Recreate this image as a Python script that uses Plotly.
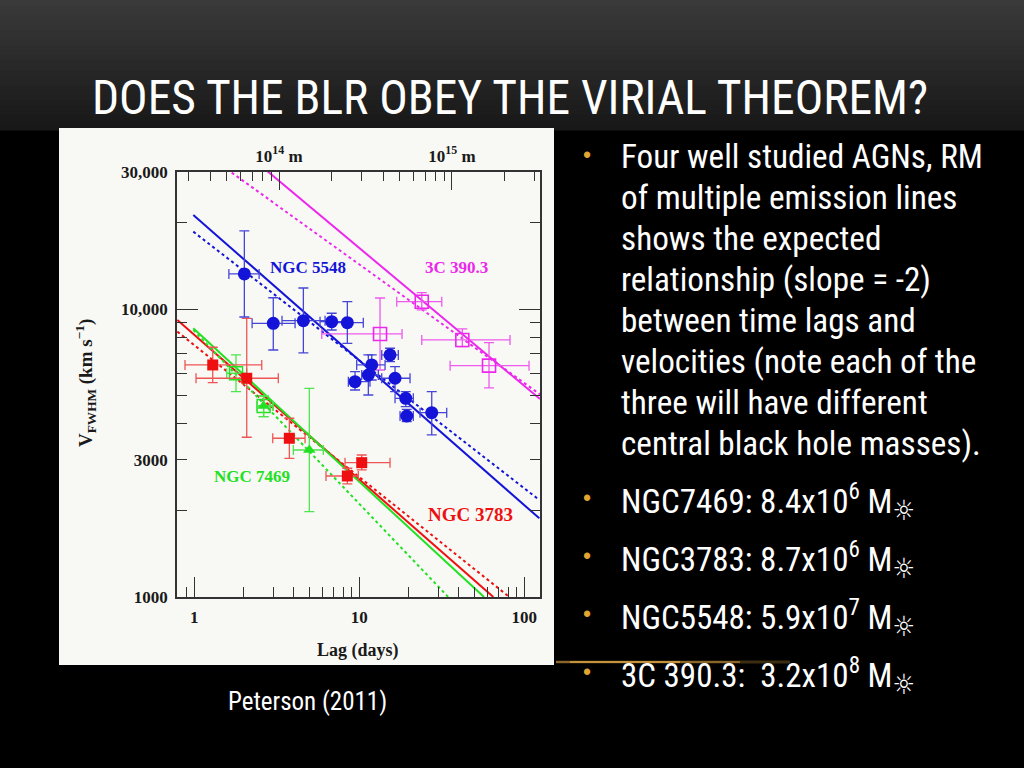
import plotly.graph_objects as go

# ---------------- data ----------------
# NGC 5548 (blue filled circles): lag in days, FWHM in km/s
n5548_lag    = [2.01, 3.01, 4.58, 6.80, 8.46, 9.42, 11.34, 11.89, 15.35, 16.46, 19.11, 19.38, 27.47]
n5548_lag_lo = [1.62, 2.24, 3.40, 5.78, 6.96, 8.58, 10.34, 9.64, 13.67, 13.67, 16.46, 17.65, 23.33]
n5548_lag_hi = [2.47, 4.08, 6.20, 8.19, 10.57, 11.60, 13.04, 14.32, 17.23, 20.29, 21.24, 21.24, 33.86]
n5548_v      = [13270, 8940, 9130, 9055, 8981, 5602, 5910, 6404, 6937, 5757, 4904, 4257, 4371]
n5548_v_lo   = [9400, 7220, 7050, 8472, 7617, 5242, 5036, 5679, 6576, 5171, 4586, 4068, 3657]
n5548_v_hi   = [18720, 10965, 11858, 9685, 10627, 6069, 6937, 6937, 7320, 6317, 5171, 4491, 5171]

# 3C 390.3 (magenta open squares)
c390_lag    = [13.35, 23.9, 42.1, 61.1]
c390_lag_lo = [5.92, 16.86, 23.9, 35.5]
c390_lag_hi = [18.15, 31.6, 81.9, 106.8]
c390_v      = [8208, 10627, 7823, 6368]
c390_v_lo   = [6152, 9945, 7413, 5327]
c390_v_hi   = [10946, 11422, 8543, 7654]

# NGC 3783 (red filled squares)
n3783_lag    = [1.293, 2.078, 3.766, 8.459, 10.34]
n3783_lag_lo = [0.878, 1.024, 2.987, 6.28, 8.19]
n3783_lag_hi = [2.562, 3.229, 4.688, 9.86, 15.35]
n3783_v      = [6404, 5757, 3562, 2634, 2930]
n3783_v_lo   = [5557, 3591, 3034, 2471, 2764]
n3783_v_hi   = [7379, 9305, 4180, 2802, 3116]

# NGC 7469 (green open squares and filled triangles)
n7469s_lag    = [1.789, 2.630]
n7469s_lag_lo = [1.571, 2.399]
n7469s_lag_hi = [2.078, 2.999]
n7469s_v      = [5992, 4612]
n7469s_v_lo   = [5171, 4233]
n7469s_v_hi   = [6937, 4995]

n7469t_lag    = [2.630, 4.977]
n7469t_lag_lo = [2.399, 3.981]
n7469t_lag_hi = [2.999, 6.05]
n7469t_v      = [4612, 3243]
n7469t_v_lo   = [4233, 1979]
n7469t_v_hi   = [4995, 5313]

# fitted lines (end points of straight log-log segments)
fit_5548_solid_lag = [0.986, 123.3];  fit_5548_solid_v = [21270, 1877]
fit_5548_dot_lag   = [0.986, 123.3];  fit_5548_dot_v   = [18610, 2174]
fit_390_solid_lag  = [2.747, 124.5];  fit_390_solid_v  = [30330, 4876]
fit_390_dot_lag    = [1.685, 124.5];  fit_390_dot_v    = [29840, 5060]
fit_3783_solid_lag = [0.789, 64.9];   fit_3783_solid_v = [9180, 1000]
fit_3783_dot_lag   = [0.789, 81.1];   fit_3783_dot_v   = [8361, 1000]
fit_7469_solid_lag = [0.986, 57.0];   fit_7469_solid_v = [8590, 1000]
fit_7469_dot_lag   = [0.986, 34.6];   fit_7469_dot_v   = [8472, 1000]

# axis ticks
x_major = [1, 10, 100]
x_major_text = ["1", "10", "100"]
x_minor = [0.9, 2, 3, 4, 5, 6, 7, 8, 9, 20, 30, 40, 50, 60, 70, 80, 90]
y_major = [1000, 3000, 10000, 30000]
y_major_text = ["1000", "3000", "10,000", "30,000"]
y_minor = [2000, 4000, 5000, 6000, 7000, 8000, 9000, 20000]
top_major = [1e14, 1e15]
top_major_text = ["10<sup>14</sup> m", "10<sup>15</sup> m"]
top_minor = [3e13, 4e13, 5e13, 6e13, 7e13, 8e13, 9e13,
             2e14, 3e14, 4e14, 5e14, 6e14, 7e14, 8e14, 9e14, 2e15, 3e15]

title_text = "DOES THE BLR OBEY THE VIRIAL THEOREM?"
bullet1_lines = ["Four well studied AGNs, RM",
                 "of multiple emission lines",
                 "shows the expected",
                 "relationship (slope = -2)",
                 "between time lags and",
                 "velocities (note each of the",
                 "three will have different",
                 "central black hole masses)."]
SUN = "<sub><span style=\"font-size:28px\">☼</span></sub>"
mass_lines = ["NGC7469: 8.4x10<sup>6</sup> M" + SUN,
              "NGC3783: 8.7x10<sup>6</sup> M" + SUN,
              "NGC5548: 5.9x10<sup>7</sup> M" + SUN,
              "3C 390.3:  3.2x10<sup>8</sup> M" + SUN]
caption = "Peterson (2011)"

# ---------------- layout geometry (pixels) ----------------
W, H = 1024, 768
L, R, T, B = 177, 540, 172, 597


def pxx(x):
    return (x - L) / (R - L)


def pxy(y):
    return (B - y) / (B - T)


SERIF = "Liberation Serif, Times New Roman, serif"
NARROW = "Roboto Condensed, Liberation Sans Narrow, Arial Narrow, DejaVu Sans Condensed, sans-serif"

BLUE, BLUE_E = "#1414d8", "#4646d6"
MAG, MAG_E = "#ec28ec", "#ee5aee"
RED, RED_E = "#ee1010", "#ee5555"
GRN, GRN_E = "#22e022", "#4ee44e"

fig = go.Figure()


def err(vals, lo, hi, color, width=5):
    return dict(type="data", symmetric=False,
                array=[h - v for v, h in zip(vals, hi)],
                arrayminus=[v - l for v, l in zip(vals, lo)],
                color=color, thickness=1.3, width=width)


def add_line(lag, v, color, dash):
    fig.add_trace(go.Scatter(x=lag, y=v, mode="lines",
                             line=dict(color=color, width=2, dash=dash),
                             hoverinfo="skip", showlegend=False))


# fit lines
add_line(fit_5548_solid_lag, fit_5548_solid_v, BLUE, "solid")
add_line(fit_5548_dot_lag, fit_5548_dot_v, BLUE, "dot")
add_line(fit_390_solid_lag, fit_390_solid_v, MAG, "solid")
add_line(fit_390_dot_lag, fit_390_dot_v, MAG, "dot")
add_line(fit_3783_solid_lag, fit_3783_solid_v, RED, "solid")
add_line(fit_3783_dot_lag, fit_3783_dot_v, RED, "dot")
add_line(fit_7469_solid_lag, fit_7469_solid_v, GRN, "solid")
add_line(fit_7469_dot_lag, fit_7469_dot_v, GRN, "dot")


def add_points(lag, lo, hi, v, vlo, vhi, color, ecolor, symbol, size, lw=0):
    fig.add_trace(go.Scatter(
        x=lag, y=v, mode="markers",
        marker=dict(symbol=symbol, size=size, color=color,
                    line=dict(color=color, width=lw)),
        error_x=err(lag, lo, hi, ecolor),
        error_y=err(v, vlo, vhi, ecolor),
        showlegend=False))


add_points(c390_lag, c390_lag_lo, c390_lag_hi, c390_v, c390_v_lo, c390_v_hi,
           MAG, MAG_E, "square-open", 13, 1.6)
add_points(n7469s_lag, n7469s_lag_lo, n7469s_lag_hi, n7469s_v, n7469s_v_lo, n7469s_v_hi,
           GRN, GRN_E, "square-open", 13, 1.4)
add_points(n7469t_lag, n7469t_lag_lo, n7469t_lag_hi, n7469t_v, n7469t_v_lo, n7469t_v_hi,
           GRN, GRN_E, "triangle-up", 11)
add_points(n3783_lag, n3783_lag_lo, n3783_lag_hi, n3783_v, n3783_v_lo, n3783_v_hi,
           RED, RED_E, "square", 11)
add_points(n5548_lag, n5548_lag_lo, n5548_lag_hi, n5548_v, n5548_v_lo, n5548_v_hi,
           BLUE, BLUE_E, "circle", 13)

# empty traces that attach the extra axes
fig.add_trace(go.Scatter(x=[], y=[], xaxis="x2", yaxis="y", showlegend=False, hoverinfo="skip"))
fig.add_trace(go.Scatter(x=[], y=[], xaxis="x", yaxis="y2", showlegend=False, hoverinfo="skip"))

AX = "#333333"
tickfont = dict(family=SERIF, size=17, color="#1a1a1a", weight="bold")

fig.update_layout(
    width=W, height=H, autosize=False,
    margin=dict(l=L, r=W - R, t=T, b=H - B, pad=0),
    paper_bgcolor="#000000", plot_bgcolor="#f8f9f5",
    showlegend=False,
    xaxis=dict(type="log", range=[-0.105, 2.095], showgrid=False, zeroline=False,
               showline=True, linecolor=AX, linewidth=1.5, mirror=True,
               tickmode="array", tickvals=x_major, ticktext=x_major_text,
               ticks="inside", ticklen=20, tickwidth=1.3, tickcolor=AX,
               minor=dict(tickmode="array", tickvals=x_minor, ticks="inside",
                          ticklen=10, tickwidth=1.3, tickcolor=AX, showgrid=False),
               tickfont=tickfont, ticklabelstandoff=4),
    xaxis2=dict(type="log", overlaying="x", side="top", anchor="y",
                range=[13.41, 15.509], showgrid=False, zeroline=False, showline=False,
                tickmode="array", tickvals=top_major, ticktext=top_major_text,
                ticks="inside", ticklen=18, tickwidth=1.3, tickcolor=AX,
                minor=dict(tickmode="array", tickvals=top_minor, ticks="inside",
                           ticklen=9, tickwidth=1.3, tickcolor=AX, showgrid=False),
                tickfont=tickfont, ticklabelstandoff=6),
    yaxis=dict(type="log", range=[3, 4.4771], showgrid=False, zeroline=False,
               showline=True, linecolor=AX, linewidth=1.5, mirror="allticks",
               tickmode="array", tickvals=y_major, ticktext=y_major_text,
               ticks="inside", ticklen=10, tickwidth=1.3, tickcolor=AX,
               minor=dict(tickmode="array", tickvals=y_minor, ticks="inside",
                          ticklen=10, tickwidth=1.3, tickcolor=AX, showgrid=False),
               tickfont=tickfont, ticklabelstandoff=4),
    yaxis2=dict(type="log", overlaying="y", side="left", anchor="x",
                range=[3, 4.4771], showgrid=False, zeroline=False, showline=False,
                tickmode="array", tickvals=[10000], ticks="inside", ticklen=21,
                tickwidth=1.3, tickcolor=AX, showticklabels=False, mirror="allticks"),
)

# ---------------- slide decoration ----------------
shapes = []
# dark gradient at the top of the slide
n_bands = 26
top_px, bot_px = 0, 130
for i in range(n_bands):
    y0 = top_px + (bot_px - top_px) * i / n_bands
    y1 = top_px + (bot_px - top_px) * (i + 1) / n_bands
    f = i / (n_bands - 1)
    c = int(58 - (58 - 24) * f)
    shapes.append(dict(type="rect", xref="paper", yref="paper",
                       x0=pxx(0), x1=pxx(W), y0=pxy(y1 + 0.5), y1=pxy(y0),
                       fillcolor=f"rgb({c},{c},{c})", line=dict(width=0), layer="below"))
# white picture box
shapes.append(dict(type="rect", xref="paper", yref="paper",
                   x0=pxx(59), x1=pxx(554), y0=pxy(665), y1=pxy(128),
                   fillcolor="#f8f9f5", line=dict(width=0), layer="below"))
# golden light streak
for x0, x1, a, w in [(556, 790, 0.25, 3), (556, 740, 0.45, 2), (570, 680, 0.8, 1.5)]:
    shapes.append(dict(type="line", xref="paper", yref="paper",
                       x0=pxx(x0), x1=pxx(x1), y0=pxy(662), y1=pxy(662),
                       line=dict(color=f"rgba(235,175,70,{a})", width=w), layer="below"))
fig.update_layout(shapes=shapes)

ann = []


def text(x, y, s, size, color, family, xanchor="left", bold=False, angle=0):
    ann.append(dict(xref="paper", yref="paper", x=pxx(x), y=pxy(y), text=s,
                    showarrow=False, xanchor=xanchor, yanchor="middle",
                    textangle=angle,
                    font=dict(family=family, size=size, color=color,
                              weight="bold" if bold else "normal")))


text(90, 98, title_text, 47.5, "#ffffff", NARROW)
line_y = [157, 197, 238, 279, 320, 361, 402, 443]
for yy, s in zip(line_y, bullet1_lines):
    text(619, yy, s, 33.2, "#ffffff", NARROW)
text(587, 155, "•", 23, "#e3a532", "Liberation Sans, sans-serif", xanchor="center")
mass_y = [502, 560, 618, 676]
for yy, s in zip(mass_y, mass_lines):
    text(619, yy, s, 33, "#ffffff", NARROW)
    text(587, yy - 4, "•", 23, "#e3a532", "Liberation Sans, sans-serif", xanchor="center")
text(307, 701, caption, 25, "#ffffff", NARROW, xanchor="center")

# chart labels
text(308, 267, "NGC 5548", 17, BLUE, SERIF, xanchor="center", bold=True)
text(456, 267, "3C 390.3", 17, MAG, SERIF, xanchor="center", bold=True)
text(252, 476, "NGC 7469", 17, GRN, SERIF, xanchor="center", bold=True)
text(470, 514, "NGC 3783", 19, RED, SERIF, xanchor="center", bold=True)
text(358, 650, "Lag (days)", 18, "#1a1a1a", SERIF, xanchor="center", bold=True)
text(85, 383, "V<sub>FWHM</sub> (km s<sup>−1</sup>)", 19, "#1a1a1a", SERIF,
     xanchor="center", bold=True, angle=-90)
fig.update_layout(annotations=ann)

fig.write_html("out.html", config={"displayModeBar": False},
               post_script="document.body.style.margin='0';document.body.style.overflow='hidden';")
